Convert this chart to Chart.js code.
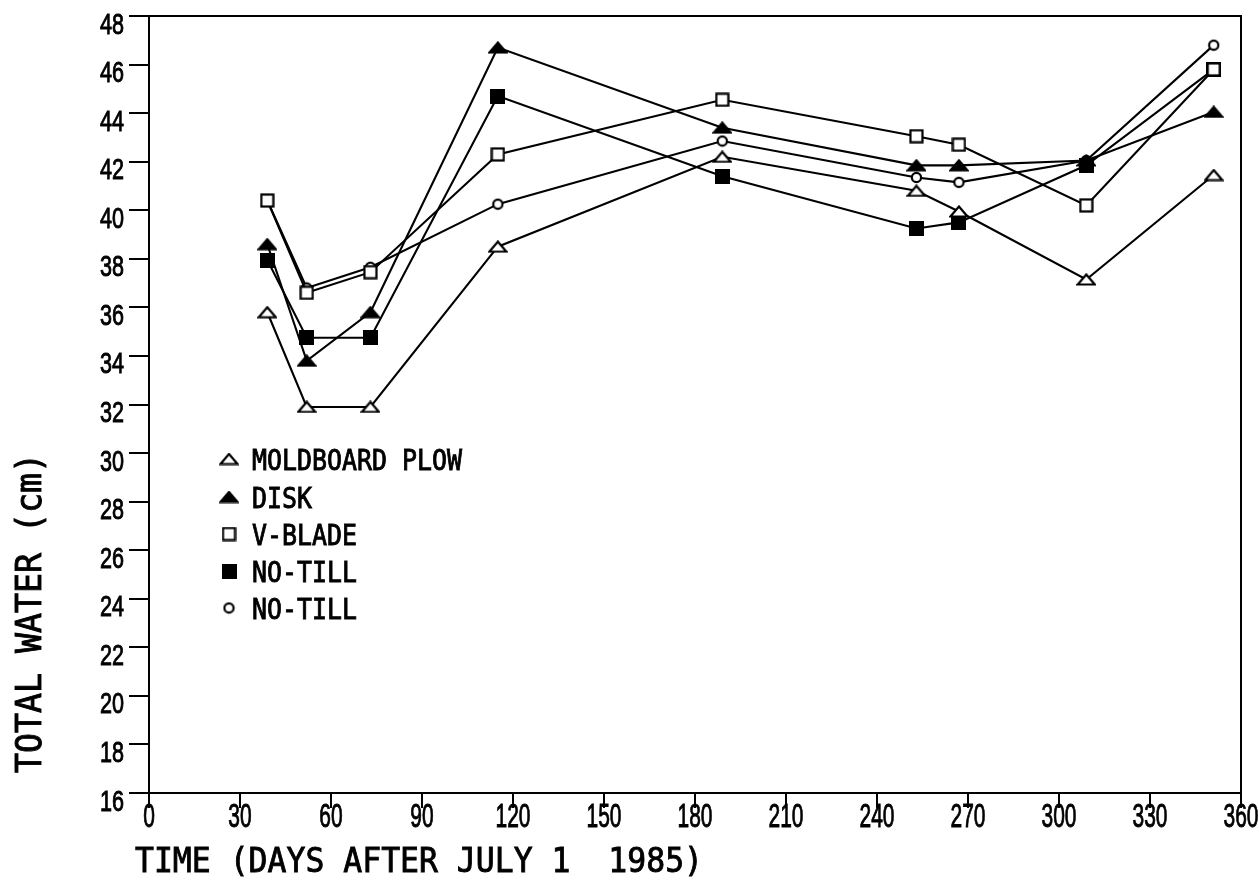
<!DOCTYPE html>
<html>
<head>
<meta charset="utf-8">
<title>Total water</title>
<script src="https://cdn.jsdelivr.net/npm/chart.js@4/dist/chart.umd.min.js"></script>
<style>
  html, body { margin: 0; padding: 0; background: #fff; }
  canvas { display: block; }
</style>
</head>
<body>
<canvas id="chart" width="1259" height="883"></canvas>
<script>
// Sampling days (days after July 1 1985)
const days = [39, 52, 73, 115, 189, 253, 267, 309, 351];

// Total water (cm) per tillage treatment
const moldboard  = [35.8, 31.9, 31.9, 38.5, 42.2, 40.8, 39.95, 37.15, 41.45];
const disk       = [38.6, 33.8, 35.8, 46.7, 43.4, 41.85, 41.85, 42.05, 44.05];
const vblade     = [40.4, 36.6, 37.45, 42.3, 44.55, 43.05, 42.7, 40.2, 45.8];
const noTillSq   = [37.95, 34.75, 34.75, 44.7, 41.4, 39.25, 39.5, 41.85, 45.8];
const noTillCirc = [40.4, 36.8, 37.65, 40.25, 42.85, 41.35, 41.15, 42.05, 46.8];

const seriesLabels = ['MOLDBOARD PLOW', 'DISK', 'V-BLADE', 'NO-TILL', 'NO-TILL'];

// Tick values
const xTicks = [0, 30, 60, 90, 120, 150, 180, 210, 240, 270, 300, 330, 360];
const yTicks = [16, 18, 20, 22, 24, 26, 28, 30, 32, 34, 36, 38, 40, 42, 44, 46, 48];

const xTitle = 'TIME (DAYS AFTER JULY 1  1985)';
const yTitle = 'TOTAL WATER (cm)';

// Fixed-pitch lettering for words, plain sans digits for ticks; both squeezed horizontally
const WORD_FONT = { family: "'DejaVu Sans Mono', 'Liberation Mono', monospace", cap: 0.729 };
const DIGIT_FONT = { family: "'Liberation Sans', 'DejaVu Sans', sans-serif", cap: 0.716 };

// Marker images
function marker(kind) {
  const c = document.createElement('canvas');
  if (kind === 'triOpen' || kind === 'triFill') { c.width = 20; c.height = 13; }
  else if (kind === 'circ') { c.width = 13; c.height = 13; }
  else { c.width = 15; c.height = 15; }
  const ctx = c.getContext('2d');
  ctx.strokeStyle = '#000';
  ctx.fillStyle = '#000';
  ctx.lineWidth = 2.2;
  if (kind === 'triOpen' || kind === 'triFill') {
    ctx.lineJoin = 'miter';
    ctx.beginPath();
    ctx.moveTo(10, 1.5);
    ctx.lineTo(18.5, 11.5);
    ctx.lineTo(1.5, 11.5);
    ctx.closePath();
    ctx.fillStyle = kind === 'triFill' ? '#000' : '#fff';
    ctx.fill();
    ctx.stroke();
  } else if (kind === 'sqOpen') {
    ctx.fillStyle = '#fff';
    ctx.fillRect(1, 1, 13, 13);
    ctx.strokeRect(1.5, 1.5, 12, 12);
  } else if (kind === 'sqFill') {
    ctx.fillRect(0, 0, 15, 15);
  } else if (kind === 'circ') {
    ctx.beginPath();
    ctx.arc(6.5, 6.5, 4.6, 0, Math.PI * 2);
    ctx.fillStyle = '#fff';
    ctx.fill();
    ctx.stroke();
  }
  return c;
}

const markers = [marker('triOpen'), marker('triFill'), marker('sqOpen'), marker('sqFill'), marker('circ')];
const seriesValues = [moldboard, disk, vblade, noTillSq, noTillCirc];

const datasets = seriesValues.map((vals, i) => ({
  label: seriesLabels[i],
  data: days.map((d, k) => ({ x: d, y: vals[k] })),
  borderColor: '#000',
  borderWidth: 2.1,
  pointStyle: markers[i],
  pointRadius: 8,
  tension: 0,
  fill: false
}));

function fontFor(f, capH) { return (capH / f.cap) + 'px ' + f.family; }

function narrowText(ctx, f, text, x, baseline, capH, sx, align) {
  ctx.save();
  ctx.font = fontFor(f, capH);
  ctx.textAlign = align || 'left';
  ctx.textBaseline = 'alphabetic';
  ctx.translate(x, baseline);
  ctx.scale(sx, 1);
  ctx.fillStyle = '#000';
  ctx.strokeStyle = '#000';
  ctx.lineWidth = 0.9;
  ctx.fillText(text, 0, 0);
  ctx.strokeText(text, 0, 0);
  ctx.restore();
}
function squeezeFor(ctx, f, text, capH, targetWidth) {
  ctx.save();
  ctx.font = fontFor(f, capH);
  const w = ctx.measureText(text).width;
  ctx.restore();
  return targetWidth / w;
}

// Tick labels, frame, titles and the in-plot key
const decorations = {
  id: 'decorations',
  afterDraw(chart) {
    const { ctx, chartArea: a } = chart;
    const xs = chart.scales.x, ys = chart.scales.y;
    ctx.save();
    ctx.strokeStyle = '#000';
    ctx.lineWidth = 2;
    ctx.strokeRect(a.left, a.top, a.right - a.left, a.bottom - a.top);

    // y tick labels
    const yCap = 21;
    const ySx = squeezeFor(ctx, DIGIT_FONT, '00', yCap, 24);
    yTicks.forEach(v => {
      const py = ys.getPixelForValue(v) + 7;
      narrowText(ctx, DIGIT_FONT, String(v), 124, py + yCap / 2, yCap, ySx, 'right');
    });

    // x tick labels
    const xCap = 24;
    const xSx = squeezeFor(ctx, DIGIT_FONT, '000', xCap, 35);
    xTicks.forEach(v => {
      const px = xs.getPixelForValue(v);
      narrowText(ctx, DIGIT_FONT, String(v), px, 815 + xCap / 2, xCap, xSx, 'center');
    });

    // axis titles
    const tCap = 25;
    narrowText(ctx, WORD_FONT, xTitle, 135, 859 + tCap / 2, tCap,
      squeezeFor(ctx, WORD_FONT, xTitle, tCap, 568), 'left');

    ctx.save();
    ctx.translate(28, 613);
    ctx.rotate(-Math.PI / 2);
    const yTCap = 26;
    narrowText(ctx, WORD_FONT, yTitle, 0, yTCap / 2, yTCap,
      squeezeFor(ctx, WORD_FONT, yTitle, yTCap, 320), 'center');
    ctx.restore();

    // key
    const lCap = 21;
    const lSx = squeezeFor(ctx, WORD_FONT, seriesLabels[0], lCap, 210);
    const rowY = [459, 497, 534, 571, 608];
    seriesLabels.forEach((lab, i) => {
      const m = markers[i];
      ctx.drawImage(m, 229 - m.width / 2, rowY[i] - m.height / 2);
      narrowText(ctx, WORD_FONT, lab, 252, rowY[i] + lCap / 2, lCap, lSx, 'left');
    });
    ctx.restore();
  }
};

new Chart(document.getElementById('chart'), {
  type: 'line',
  data: { datasets },
  options: {
    responsive: false,
    animation: false,
    layout: { padding: { top: 16, right: 18, left: 0, bottom: 0 } },
    plugins: { legend: { display: false }, tooltip: { enabled: false } },
    scales: {
      x: {
        type: 'linear',
        min: 0, max: 360,
        afterBuildTicks(scale) { scale.ticks = xTicks.map(v => ({ value: v })); },
        afterFit(scale) { scale.height = 90; },
        border: { display: true, color: '#000', width: 2 },
        grid: { drawOnChartArea: false, drawTicks: true, tickLength: 15, color: '#000', lineWidth: 2 },
        ticks: { display: false }
      },
      y: {
        type: 'linear',
        min: 16, max: 48,
        afterBuildTicks(scale) { scale.ticks = yTicks.map(v => ({ value: v })); },
        afterFit(scale) { scale.width = 149; },
        border: { display: true, color: '#000', width: 2 },
        grid: { drawOnChartArea: false, drawTicks: true, tickLength: 20, color: '#000', lineWidth: 2 },
        ticks: { display: false }
      }
    }
  },
  plugins: [decorations]
});
</script>
</body>
</html>
